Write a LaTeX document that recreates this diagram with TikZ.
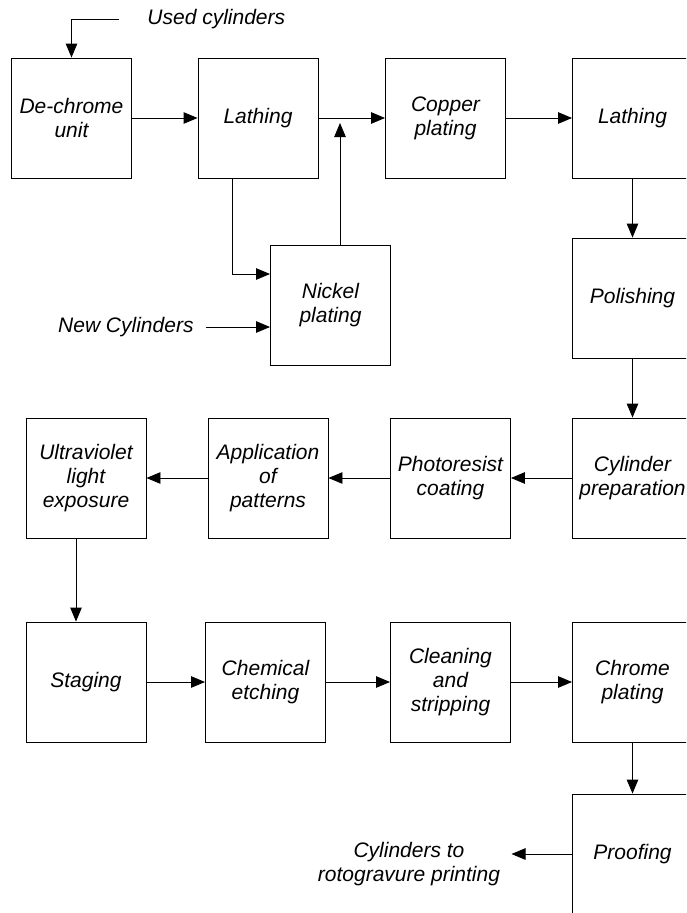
\documentclass[tikz,border=0pt]{standalone}
\usepackage{fontspec}
\setmainfont{Liberation Sans}
\usetikzlibrary{arrows.meta}

\begin{document}
\begin{tikzpicture}[x=1pt, y=-1pt, line width=0.9pt,
  font=\fontsize{21}{24}\selectfont\itshape,
  unit/.style={draw, minimum width=120pt, minimum height=120pt, align=center, inner sep=2pt},
  >={Triangle[length=14pt, width=11.5pt]}]
			\useasboundingbox (0,0) rectangle (686,913);
			\clip (0,0) rectangle (686,913);
			
			% Nodes - Row 1
			\node[unit] (dechrome) at (71.5,118) {De-chrome\\unit};
			\node[unit] (lathA) at (258,118) {Lathing};
			\node[unit] (copper) at (445.5,118) {Copper\\plating};
			\node[unit] (lathB) at (632.5,118) {Lathing};
			
			% Nodes - Row 2
			\node[unit] (nickel) at (330.5,305.5) {Nickel\\plating};
			\node[unit] (polish) at (632.5,298) {Polishing};
			
			% Nodes - Row 3
			\node[unit] (cylprep) at (632.5,478) {Cylinder\\preparation};
			\node[unit] (photo) at (450.5,478) {Photoresist\\coating};
			\node[unit] (appl) at (268,478) {Application\\of\\patterns};
			\node[unit] (uv) at (86,478) {Ultraviolet\\light\\exposure};
			
			% Nodes - Row 4
			\node[unit] (staging) at (86,682) {Staging};
			\node[unit] (chem) at (265.5,682) {Chemical\\etching};
			\node[unit] (clean) at (450.5,682) {Cleaning\\and\\stripping};
			\node[unit] (chrome) at (632.5,682) {Chrome\\plating};
			
			% Nodes - Row 5
			\node[unit] (proof) at (632.5,854) {Proofing};
			
			% Inputs and output
			\node[anchor=west, inner sep=0pt] (used) at (147,19) {Used cylinders};
			\node[anchor=east, inner sep=0pt] (newcyl) at (194,327) {New Cylinders};
			\node[align=center, inner sep=0pt] (out) at (409,864) {Cylinders to\\rotogravure printing};
			\coordinate (usedstart) at (119,19);
			\coordinate (tap) at (232,274);
			\coordinate (join) at (340,123);
			\coordinate (drop) at (76,560);
			
			% Edges (condensed)
			\draw[->] (usedstart) -| (dechrome); \draw[->] (dechrome) -- (lathA);
			\draw[->] (lathA) -- (copper); \draw[->] (copper) -- (lathB);
			\draw[->] (lathA.south -| tap) |- (nickel.west |- tap); \draw[->] (nickel.north -| join) -- (join);
			\draw[->, shorten <=12pt] (newcyl.east) -- (nickel.west |- newcyl.east);
			\draw[->] (lathB) -- (polish); \draw[->] (polish) -- (cylprep);
			\draw[->] (cylprep) -- (photo); \draw[->] (photo) -- (appl); \draw[->] (appl) -- (uv);
			\draw[->] (uv.south -| drop) -- (staging.north -| drop);
			\draw[->] (staging) -- (chem); \draw[->] (chem) -- (clean); \draw[->] (clean) -- (chrome);
			\draw[->] (chrome) -- (proof);
			\draw[->, shorten >=11pt] (proof.west) -- (proof.west -| out.east);
		\end{tikzpicture}
\end{document}
